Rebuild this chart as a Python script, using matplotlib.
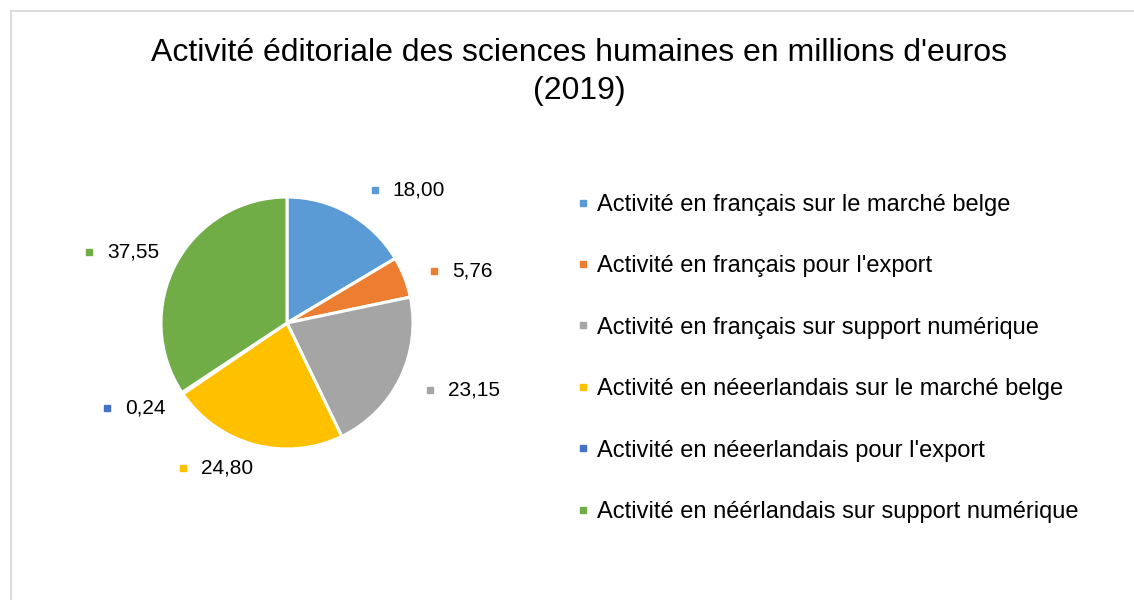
import numpy as np
import matplotlib
matplotlib.use("Agg")
import matplotlib.pyplot as plt
from matplotlib.lines import Line2D

plt.rcParams["font.family"] = ["Liberation Sans", "DejaVu Sans"]

categories = [
    "Activité en français sur le marché belge",
    "Activité en français pour l'export",
    "Activité en français sur support numérique",
    "Activité en néeerlandais sur le marché belge",
    "Activité en néeerlandais pour l'export",
    "Activité en néérlandais sur support numérique",
]
values = [18.00, 5.76, 23.15, 24.80, 0.24, 37.55]
value_labels = ["18,00", "5,76", "23,15", "24,80", "0,24", "37,55"]
colors = ["#5B9BD5", "#ED7D31", "#A5A5A5", "#FFC000", "#4472C4", "#70AD47"]

# label placement (angle clockwise from top in degrees, distance in px from centre)
label_layout = [(33.5, 159), (70.5, 156), (115, 158), (215.6, 178), (244.7, 199), (289.7, 210)]

W, H = 1134, 600
fig = plt.figure(figsize=(W / 100, H / 100), dpi=100)
ax = fig.add_axes([0, 0, 1, 1])

cx, cy, r = 287, H - 323, 126
ax.pie(values, colors=colors, startangle=90, counterclock=False,
       center=(cx, cy), radius=r,
       wedgeprops=dict(edgecolor="white", linewidth=2.2))
ax.set_xlim(0, W)
ax.set_ylim(0, H)
ax.set_aspect("equal")
ax.axis("off")

for (ang, dist), txt, col in zip(label_layout, value_labels, colors):
    t = np.deg2rad(ang)
    mx = cx + dist * np.sin(t)
    my = cy + dist * np.cos(t)
    ax.plot([mx], [my], marker="s", markersize=4.8, color=col, linestyle="none")
    ax.text(mx + 18, my, txt, fontsize=15, va="center", ha="left", color="#000000")

# chart border
ax.plot([11, 11, W], [0, H - 11, H - 11], color="#D9D9D9", linewidth=1.3,
        solid_joinstyle="miter")

fig.text(0.5106, 1 - 72 / H, "Activité éditoriale des sciences humaines en millions d'euros\n(2019)",
         ha="center", va="center", fontsize=23, linespacing=1.32, color="#000000")

handles = [Line2D([], [], marker="s", markersize=4.8, color=c, linestyle="none") for c in colors]
fig.legend(handles, categories, loc="upper left",
           bbox_to_anchor=(564 / W, 1 - 182 / H), frameon=False,
           fontsize=17, handlelength=0.6, handletextpad=0.3,
           labelspacing=1.67, borderpad=0)

fig.savefig("out.png", dpi=100)
